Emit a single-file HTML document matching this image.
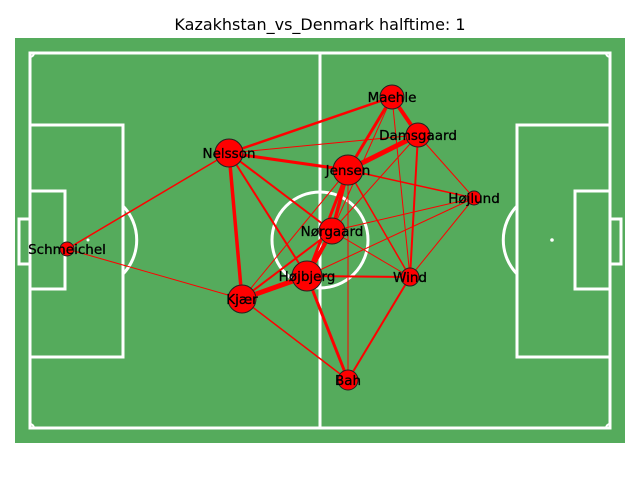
<!DOCTYPE html>
<html><head><meta charset="utf-8"><style>
body{margin:0;background:#fff;font-family:"DejaVu Sans","Liberation Sans",sans-serif}
svg{display:block}
</style></head><body>
<svg id="chart" width="640" height="480" xmlns="http://www.w3.org/2000/svg">
<text x="320" y="30" text-anchor="middle" font-size="16" font-family="DejaVu Sans, Liberation Sans, sans-serif">Kazakhstan_vs_Denmark halftime: 1</text>
<g>
<rect x="15" y="38" width="610" height="405" fill="#55ab5c"/>
<g fill="none" stroke="#fff" stroke-width="3">
<rect x="30" y="53" width="580" height="375"/>
<line x1="320" y1="53" x2="320" y2="428"/>
<circle cx="320" cy="240" r="48"/>
<rect x="30" y="125" width="93" height="232"/>
<rect x="30" y="191" width="35" height="98"/>
<rect x="19" y="219" width="11" height="45"/>
<path d="M123,206 A49,49 0 0 1 123,274"/>
<rect x="517" y="125" width="93" height="232"/>
<rect x="575" y="191" width="35" height="98"/>
<rect x="610" y="219" width="11" height="45"/>
<path d="M517,206 A49,49 0 0 0 517,274"/>
<path stroke-width="2" d="M30,57 A4,4 0 0 0 34,53 M606,53 A4,4 0 0 0 610,57 M30,424 A4,4 0 0 1 34,428 M606,428 A4,4 0 0 1 610,424"/>
</g>
<circle cx="88" cy="240" r="1.5" fill="#fff"/>
<circle cx="552" cy="240" r="1.8" fill="#fff"/>
<circle cx="320" cy="240" r="1.5" fill="#fff"/>
</g>
<g id="edges"></g>
<g id="nodes"></g>
</svg>
<script>
const players = ["Maehle","Damsgaard","Nelsson","Jensen","Højlund","Nørgaard","Schmeichel","Højbjerg","Wind","Kjær","Bah"];
const posX = [392,418,229,348,474,332,67,307,410,242,348];
const posY = [97,135,153,170,198,231,249,276,277,299,380];
const nodeSize = [12,12,14,15,7,13,7,15,9,14,10];
const passFrom = ["Nelsson","Nelsson","Nelsson","Nelsson","Nelsson","Nelsson","Nelsson","Maehle","Maehle","Maehle","Maehle","Damsgaard","Damsgaard","Damsgaard","Damsgaard","Jensen","Jensen","Jensen","Jensen","Jensen","Jensen","Højlund","Højlund","Højlund","Nørgaard","Nørgaard","Nørgaard","Højbjerg","Højbjerg","Højbjerg","Kjær","Kjær","Wind"];
const passTo = ["Maehle","Damsgaard","Jensen","Kjær","Nørgaard","Højbjerg","Schmeichel","Damsgaard","Jensen","Nørgaard","Wind","Jensen","Wind","Højlund","Nørgaard","Højlund","Nørgaard","Højbjerg","Wind","Bah","Kjær","Nørgaard","Højbjerg","Wind","Højbjerg","Kjær","Wind","Kjær","Wind","Bah","Bah","Schmeichel","Bah"];
const passCount = [2.5,1,3,3.5,2,2,1.5,4,3,1,1,5,2,1,1,1.5,3.5,3,1.5,1,1,1,1,1,4,2,1,5,2,3,1.5,1,2];
const NS="http://www.w3.org/2000/svg";
const eg=document.getElementById('edges'), ng=document.getElementById('nodes');
function px(n){return posX[players.indexOf(n)];}
function py(n){return posY[players.indexOf(n)];}
for(let i=0;i<passFrom.length;i++){
  const l=document.createElementNS(NS,'line');
  
  
  l.setAttribute('x1',px(passFrom[i]));l.setAttribute('y1',py(passFrom[i]));
  l.setAttribute('x2',px(passTo[i]));l.setAttribute('y2',py(passTo[i]));
  l.setAttribute('stroke','#ff0000');l.setAttribute('stroke-width',passCount[i]);
  eg.appendChild(l);
}
for(let i=0;i<players.length;i++){
  const c=document.createElementNS(NS,'circle');
  
  
  c.setAttribute('cx',posX[i]);c.setAttribute('cy',posY[i]);c.setAttribute('r',nodeSize[i]);
  c.setAttribute('fill','#ff0000');c.setAttribute('stroke','#222');c.setAttribute('stroke-width','1');
  ng.appendChild(c);
}
for(let i=0;i<players.length;i++){
  const t=document.createElementNS(NS,'text');
  
  
  t.setAttribute('x',posX[i]);t.setAttribute('y',posY[i]+5);
  t.setAttribute('text-anchor','middle');t.setAttribute('font-size','13.5');
  t.setAttribute('stroke','#000');t.setAttribute('stroke-width','0.3');
  t.setAttribute('font-family','DejaVu Sans, Liberation Sans, sans-serif');
  t.textContent=players[i];
  ng.appendChild(t);
}
</script>
</body></html>
